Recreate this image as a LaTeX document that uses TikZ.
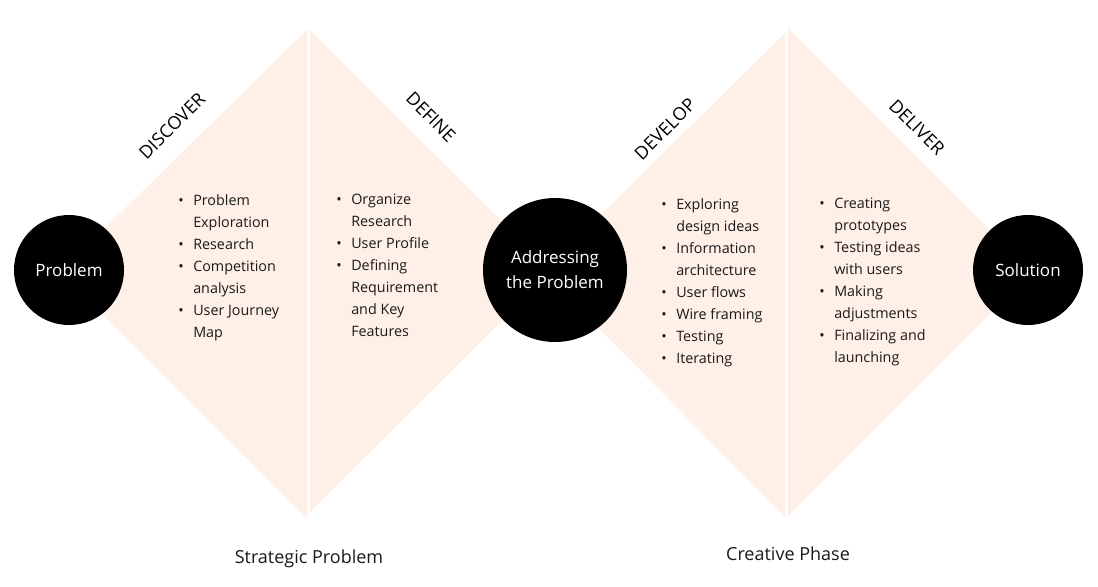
\documentclass[tikz,border=0pt]{standalone}
\usepackage{fontspec}
\setmainfont{Open Sans}
\usepackage{tikz}
\usetikzlibrary{positioning,calc}
\definecolor{Peach}{RGB}{254,240,231}
\definecolor{InkGray}{RGB}{26,26,26}
\newcommand{\bul}{\makebox[11.25pt][l]{\textbullet}}
\newcommand{\ind}{\hspace*{11.25pt}}
\tikzset{
	wing/.style={fill=Peach,draw=none},
	hub/.style={circle,fill=black,text=white,inner sep=0pt,align=center,
		font=\fontsize{12.75}{18.75}\selectfont},
	phase/.style={text=black,inner sep=0pt,font=\fontsize{13.5}{15}\selectfont},
	items/.style={anchor=north west,inner sep=0pt,align=left,text=InkGray,
		font=\fontsize{10.75}{16.5}\selectfont},
	caption/.style={text=InkGray,inner sep=0pt,font=\fontsize{13.5}{15}\selectfont},
}

\begin{document}
\begin{tikzpicture}[x=0.75pt,y=-0.75pt]
			\useasboundingbox (0,0) rectangle (1098,586);
			% first diamond
			\fill[wing] (307,30) -- (60,272) -- (307,518) -- cycle;
			\fill[wing] (310,30) -- (552,271) -- (310,512) -- cycle;
			% second diamond
			\fill[wing] (785,33) -- (543,272) -- (785,517) -- cycle;
			\fill[wing] (788,28) -- (1032,272) -- (788,516) -- cycle;
			% hubs
			\node[hub,minimum size=82.5pt] (problem) at (69,270) {Problem};
			\node[hub,minimum size=108pt] (address) at (555,270) {Addressing\\the Problem};
			\node[hub,minimum size=82.5pt] (solution) at (1028,270) {Solution};
			% phase names
			\node[phase,rotate=45] (discover) at (172,126) {DISCOVER};
			\node[phase,rotate=-45] (define) at (431,117) {DEFINE};
			\node[phase,rotate=45] (develop) at (665,129) {DEVELOP};
			\node[phase,rotate=-45] (deliver) at (917,127) {DELIVER};
			% item lists
			\node[items] (discoverlist) at (178,194) {\bul Problem\\ \ind Exploration\\ \bul Research\\
				\bul Competition\\ \ind analysis\\ \bul User Journey\\ \ind Map};
			\node[items] (definelist) at (336,194) {\bul Organize\\ \ind Research\\ \bul User Profile\\
				\bul Defining\\ \ind Requirement\\ \ind and Key\\ \ind Features};
			\node[items] (developlist) at (661,198) {\bul Exploring\\ \ind design ideas\\ \bul Information\\
				\ind architecture\\ \bul User flows\\ \bul Wire framing\\ \bul Testing\\ \bul Iterating};
			\node[items] (deliverlist) at (819,198) {\bul Creating\\ \ind prototypes\\ \bul Testing ideas\\
				\ind with users\\ \bul Making\\ \ind adjustments\\ \bul Finalizing and\\ \ind launching};
			% captions
			\node[caption] (strategic) at (309,559) {Strategic Problem};
			\node[caption] (creative) at (788,554) {Creative Phase};
		\end{tikzpicture}
\end{document}
